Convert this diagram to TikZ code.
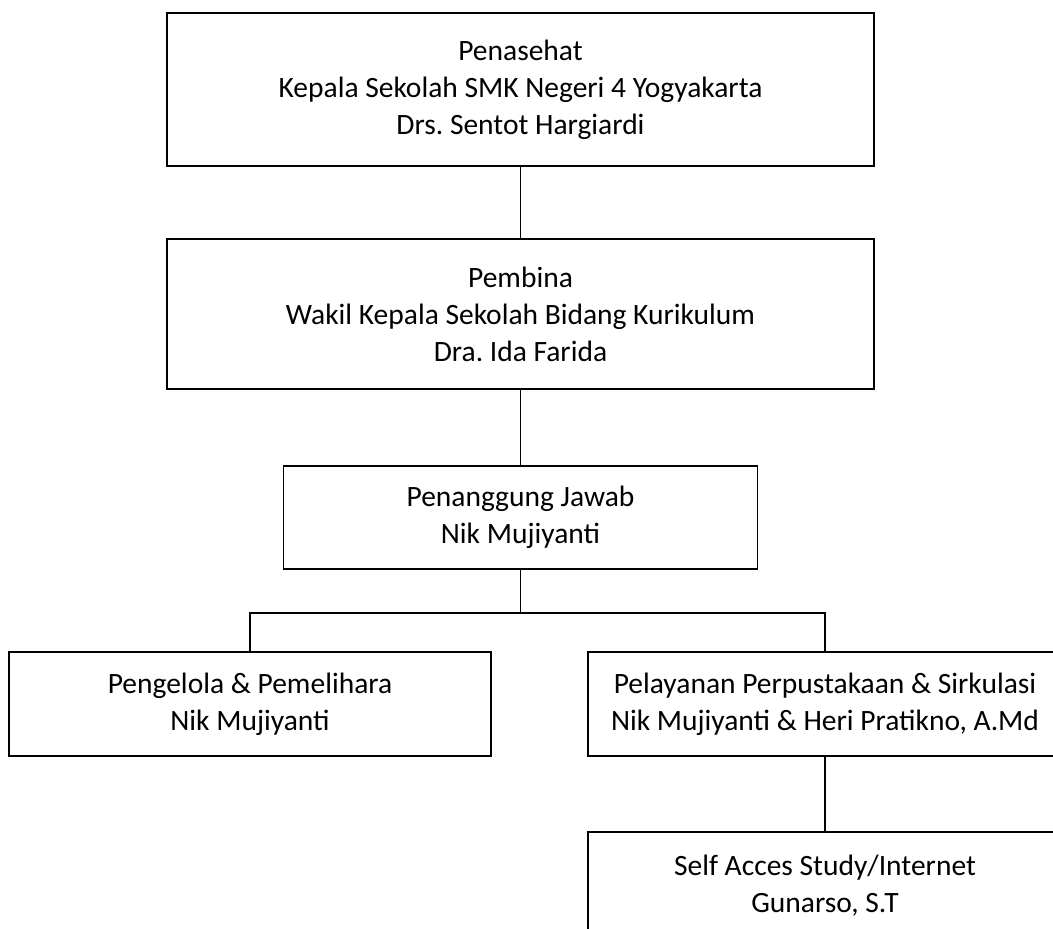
\documentclass[tikz,border=0pt]{standalone}
\usepackage{fontspec}
\setmainfont{Carlito}
\frenchspacing
\begin{document}
\begin{tikzpicture}[x=1pt,y=-1pt,
  orgbox/.style={draw=black, line width=1.6pt, rectangle, align=center, inner sep=0pt,
    font=\fontsize{29.5}{37}\selectfont},
  conn/.style={draw=black, line width=1.6pt}]
\useasboundingbox (0,0) rectangle (1053,929);
\clip (0,0) rectangle (1053,929);
\node[orgbox, minimum width=707pt, minimum height=153pt] (pen) at (520.5,89.5)
  {Penasehat\\Kepala Sekolah SMK Negeri 4 Yogyakarta\\Drs. Sentot Hargiardi};
\node[orgbox, minimum width=707pt, minimum height=150pt] (pem) at (520.5,314)
  {Pembina\\Wakil Kepala Sekolah Bidang Kurikulum\\Dra. Ida Farida};
\node[orgbox, minimum width=474pt, minimum height=103pt] (pj) at (520.5,517.5)
  {Penanggung Jawab\\Nik Mujiyanti};
\node[orgbox, minimum width=482pt, minimum height=104pt] (pp) at (250,704)
  {Pengelola \& Pemelihara\\Nik Mujiyanti};
\node[orgbox, minimum width=474pt, minimum height=104pt] (pl) at (825,704)
  {Pelayanan Perpustakaan \& Sirkulasi\\Nik Mujiyanti \& Heri Pratikno, A.Md};
\node[orgbox, minimum width=474pt, minimum height=108pt] (sa) at (825,886)
  {Self Acces Study/Internet\\Gunarso, S.T};
\coordinate (j) at (520.5,613);
\draw[conn] (pen.south) -- (pem.north);
\draw[conn] (pem.south) -- (pj.north);
\draw[conn] (pj.south) -- (j);
\draw[conn] (pp.north) |- (j) -| (pl.north);
\draw[conn] (pl.south) -- (sa.north);
\end{tikzpicture}
\end{document}
